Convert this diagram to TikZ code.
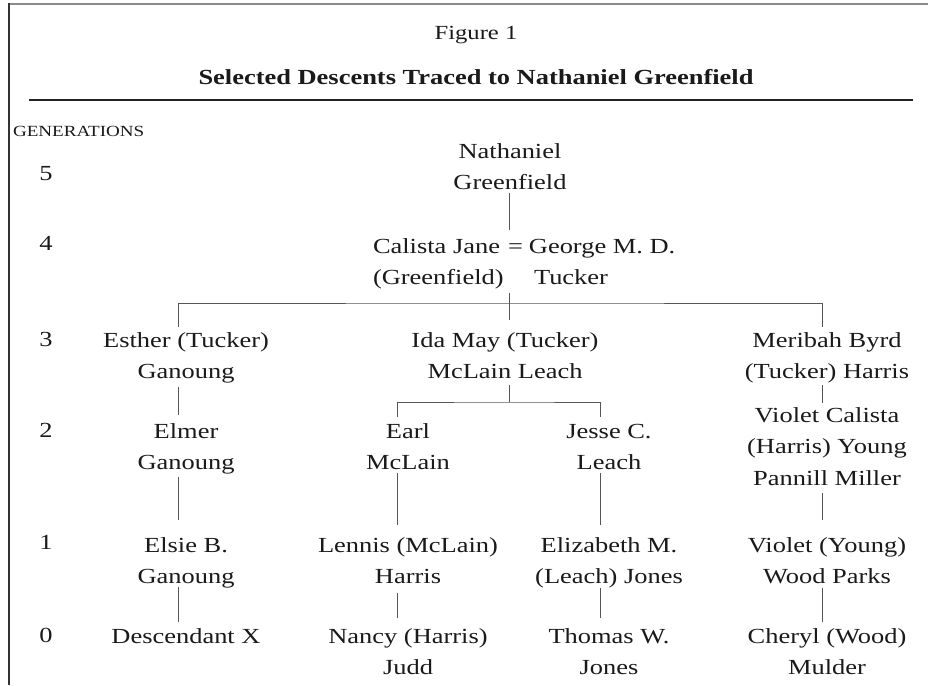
\documentclass[tikz,border=0pt]{standalone}
\usepackage{fontspec}
\setmainfont[FakeStretch=1.23]{Liberation Serif}
\usetikzlibrary{calc}
\definecolor{txt}{HTML}{1A1A1A}
\definecolor{lin}{HTML}{555555}
\definecolor{rulec}{HTML}{222222}
\definecolor{topb}{HTML}{8A8A8A}
\definecolor{leftb}{HTML}{333333}
\newcommand{\tstr}{\rule{0pt}{15pt}}
\newcommand{\bstr}{\rule[-6pt]{0pt}{6pt}}
\begin{document}
\begin{tikzpicture}[x=1pt,y=-1pt,
  every node/.style={inner sep=0pt, outer sep=0pt, text=txt},
  person/.style={anchor=north, align=center, font=\fontsize{21.5}{31.5}\selectfont},
  gennum/.style={anchor=base, font=\fontsize{21.5}{24}\selectfont},
  conn/.style={draw=lin, line width=0.9pt},
]
\fill[white] (0,0) rectangle (928,685);
\useasboundingbox (0,0) rectangle (928,685);
% frame
\draw[topb, line width=2pt] (9,4.5) -- (928,4.5);
\draw[leftb, line width=1.3pt] (9,3.5) -- (9,685);
% titles
\node[anchor=base, font=\fontsize{20}{24}\selectfont] (fig) at (476,40) {Figure 1};
\node[anchor=base, font=\fontsize{21.5}{24}\selectfont\bfseries] (title) at (476,84) {Selected Descents Traced to Nathaniel Greenfield};
\draw[rulec, line width=1.2pt] (29,100) -- (913,100);
% generations
\node[anchor=base west, font=\fontsize{15.5}{18}\selectfont] (genlab) at (13,136) {GENERATIONS};
\node[gennum] (g5) at (46,180) {5};
\node[gennum] (g4) at (46,250) {4};
\node[gennum] (g3) at (46,346) {3};
\node[gennum] (g2) at (46,437) {2};
\node[gennum] (g1) at (46,549) {1};
\node[gennum] (g0) at (46,642) {0};
% people
\node[person] (nat) at (510,143) {\tstr Nathaniel\\Greenfield\bstr};
\node[anchor=north west, align=left, font=\fontsize{21.5}{31.5}\selectfont] (couple) at (373,238)
  {\tstr\makebox[135pt][l]{Calista Jane}=\hspace{6pt}George M. D.\\\makebox[161pt][l]{(Greenfield)}Tucker\bstr};
\node[person] (esther) at (186,332) {\tstr Esther (Tucker)\\Ganoung\bstr};
\node[person] (ida) at (505,332) {\tstr Ida May (Tucker)\\McLain Leach\bstr};
\node[person] (meribah) at (827,332) {\tstr Meribah Byrd\\(Tucker) Harris\bstr};
\node[person] (elmer) at (186,423) {\tstr Elmer\\Ganoung\bstr};
\node[person] (earl) at (408,423) {\tstr Earl\\McLain\bstr};
\node[person] (jesse) at (609,423) {\tstr Jesse C.\\Leach\bstr};
\node[person] (violetc) at (827,407) {\tstr Violet Calista\\(Harris) Young\\Pannill Miller\bstr};
\node[person] (elsie) at (186,537) {\tstr Elsie B.\\Ganoung\bstr};
\node[person] (lennis) at (408,537) {\tstr Lennis (McLain)\\Harris\bstr};
\node[person] (eliz) at (609,537) {\tstr Elizabeth M.\\(Leach) Jones\bstr};
\node[person] (violety) at (827,537) {\tstr Violet (Young)\\Wood Parks\bstr};
\node[person] (desc) at (186,628) {\tstr Descendant X\bstr};
\node[person] (nancy) at (408,628) {\tstr Nancy (Harris)\\Judd\bstr};
\node[person] (thomas) at (609,628) {\tstr Thomas W.\\Jones\bstr};
\node[person] (cheryl) at (827,628) {\tstr Cheryl (Wood)\\Mulder\bstr};
% column coordinates
\coordinate (xE) at (178.5,0);
\coordinate (xN) at (509.5,0);
\coordinate (xEa) at (397.5,0);
\coordinate (xJ) at (600.5,0);
\coordinate (xM) at (822,0);
\coordinate (b1) at (509.5,303);
\coordinate (b2) at (509.5,402);
% connectors
\draw[conn, shorten <=-3pt, shorten >=8pt] (nat.south -| xN) -- (couple.north -| xN);
\draw[conn, shorten <=2pt, shorten >=12pt] (couple.south -| xN) -- (ida.north -| xN);
\draw[conn] ($(esther.north -| xE)+(0,-5)$) |- (b1) -| ($(meribah.north -| xM)+(0,-5)$);
\draw[conn] (ida.south -| xN) -- (b2);
\draw[conn] ($(earl.north -| xEa)+(0,-6)$) |- (b2) -| ($(jesse.north -| xJ)+(0,-6)$);
\draw[conn, shorten <=2pt, shorten >=8pt] (esther.south -| xE) -- (elmer.north -| xE);
\draw[conn, shorten >=4pt] (meribah.south -| xM) -- (violetc.north -| xM);
\draw[conn, shorten <=1pt, shorten >=17pt] (elmer.south -| xE) -- (elsie.north -| xE);
\draw[conn, shorten <=-3pt, shorten >=12pt] (earl.south -| xEa) -- (lennis.north -| xEa);
\draw[conn, shorten <=-3pt, shorten >=12pt] (jesse.south -| xJ) -- (eliz.north -| xJ);
\draw[conn, shorten <=2pt, shorten >=17pt] (violetc.south -| xM) -- (violety.north -| xM);
\draw[conn, shorten <=-3pt, shorten >=6pt] (elsie.south -| xE) -- (desc.north -| xE);
\draw[conn, shorten <=3pt, shorten >=10pt] (lennis.south -| xEa) -- (nancy.north -| xEa);
\draw[conn, shorten <=-2pt, shorten >=10pt] (eliz.south -| xJ) -- (thomas.north -| xJ);
\draw[conn, shorten <=-2pt, shorten >=6pt] (violety.south -| xM) -- (cheryl.north -| xM);
\end{tikzpicture}
\end{document}
